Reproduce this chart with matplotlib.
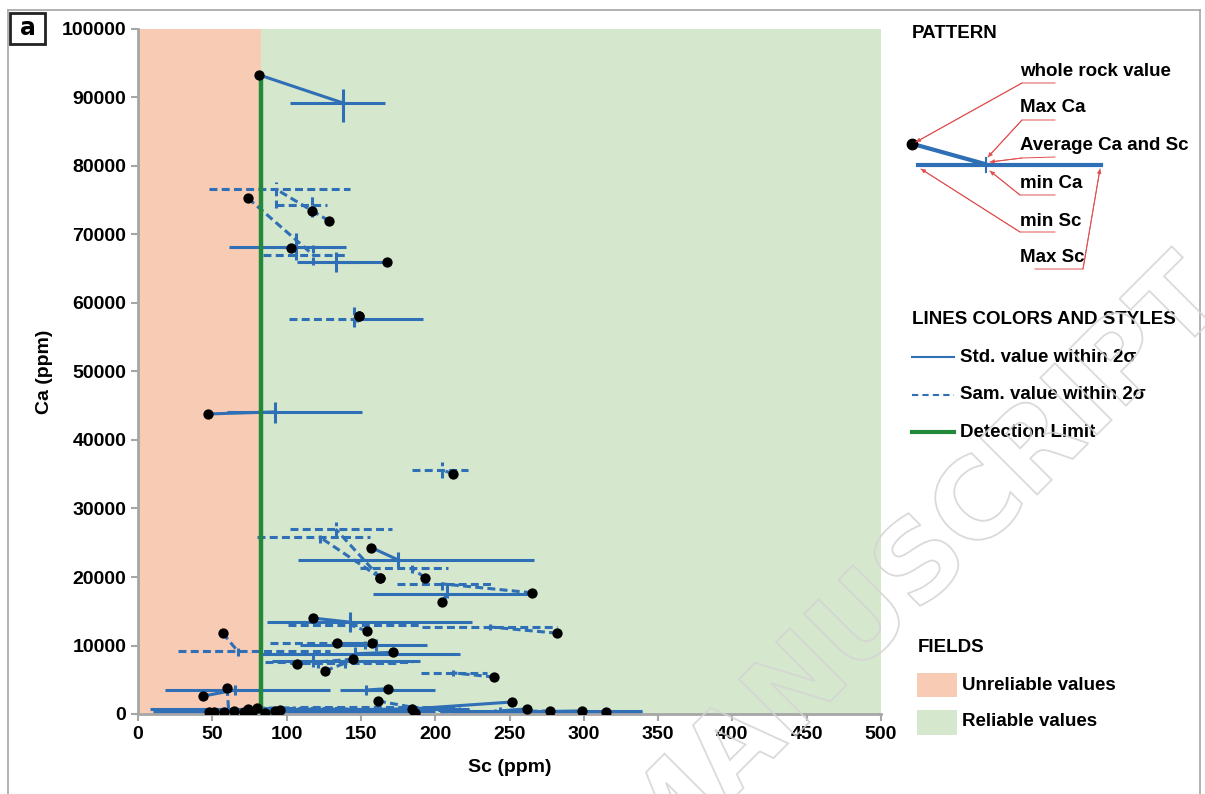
import matplotlib
matplotlib.use("Agg")
import matplotlib.pyplot as plt
from matplotlib.patches import Rectangle, PathPatch
from matplotlib.lines import Line2D
from matplotlib.textpath import TextPath
from matplotlib.font_manager import FontProperties
from matplotlib.transforms import Affine2D, IdentityTransform

FONT = ["Liberation Sans Narrow", "Liberation Sans", "DejaVu Sans"]
plt.rcParams["font.family"] = FONT
plt.rcParams["font.weight"] = "bold"

BLUE = "#2f6fb5"
GREEN_LINE = "#23893a"
SALMON = "#f8cbb4"
LIGHT_GREEN = "#d5e7cd"
GREY = "#a6a6a6"

DETECTION_LIMIT = 83
DL_TOP = 93300

# one entry per sample: whole rock value, average of the analyses, min/max ranges
dashed = [0, 1, 1, 1, 0, 0, 1, 0, 0, 1, 1, 1, 1, 0, 1, 0, 0, 1, 1, 1, 1, 0, 0, 1, 0,
          1, 1, 0, 0, 1, 1, 0, 0, 1, 0, 0, 1, 0, 0, 1, 0, 0, 1, 0, 0, 1, 0, 1, 0]
wr_sc = [81.5, 128.5, 117, 74, 103, 167.5, 148.5, 148.5, 47, 212, 163, 163, 193, 157,
         265, 204.5, 118, 282, 154, 57, 134, 157.5, 171.5, 144.5, 107, 126, 239.5, 168,
         43.5, 60, 161.5, 251.5, 262, 277, 299, 315, 184.5, 186.5,
         48, 51, 58, 64.5, 71, 74, 77, 80, 85.5, 92.5, 95.5]
wr_ca = [93300, 72000, 73400, 75300, 68000, 66000, 58100, 58100, 43800, 35100, 19900,
         19900, 19900, 24300, 17700, 16300, 14000, 11800, 12100, 11800, 10400, 10400,
         9000, 8000, 7300, 6300, 5400, 3700, 2600, 3800, 1900, 1750, 750, 450, 450, 300,
         750, 100, 350, 300, 350, 450, 300, 700, 250, 850, 150, 500, 650]
avg_sc = [138, 93, 117, 118, 106, 133, 145.5, 147.5, 92, 204.5, 133, 122.5, 184.5, 175,
          204.5, 208, 143, 237, 143, 67, 153, 160, 146, 121, 118, 139, 212, 153.5,
          65.5, 61, 184.5, 184.5, 243.5, 240, 257, 270.5, 136, 109,
          70, 85, 75, 95, 100, 90, 110, 105, 120, 130, 140]
avg_ca = [89200, 76600, 74300, 67000, 68200, 66000, 57700, 57700, 44100, 35600, 27000,
          25800, 21300, 22500, 19000, 17500, 13400, 12700, 13000, 9200, 10400, 10100,
          8800, 7600, 7700, 7400, 6000, 3500, 3500, 450, 1000, 750, 450, 300, 300, 300,
          600, 300, 500, 400, 300, 600, 450, 700, 350, 900, 400, 550, 700]
min_sc = [102, 48, 93, 84, 61, 107, 101.5, 147.5, 60, 184.5, 102, 80, 149.5, 108, 174,
          158, 87, 191, 101, 27, 89, 109, 83.5, 85.5, 90, 102, 190.5, 136, 18, 40, 109,
          8, 203, 203, 214, 229, 62, 10,
          20, 45, 35, 55, 60, 50, 70, 75, 85, 100, 110]
max_sc = [166, 143, 127, 141, 140, 149, 145.5, 192, 151, 222, 171, 156, 208.5, 266.5,
          239, 266.5, 225, 282, 190, 129, 153, 194.5, 216.5, 184.5, 190, 176, 235, 200,
          129, 130, 216.5, 223, 339, 284, 325, 339, 223, 190,
          120, 125, 110, 140, 160, 150, 170, 140, 200, 180, 200]
min_ca = [86400, 73900, 72600, 65500, 66300, 64500, 56500, 57200, 42500, 34500, 25700,
          25000, 20600, 21500, 18100, 16900, 12000, 12200, 12300, 8500, 9500, 9200, 7700,
          6700, 6900, 6700, 5600, 2800, 2800, 100, 300, 200, 100, 50, 50, 50, 200, 50,
          100, 100, 50, 300, 200, 400, 100, 600, 100, 300, 400]
max_ca = [91300, 77700, 75800, 68500, 70200, 67500, 59400, 58200, 45500, 36800, 28000,
          26600, 22000, 23700, 19600, 19100, 14900, 13200, 13900, 10100, 11200, 10900,
          9800, 8500, 8600, 8000, 6400, 4200, 4200, 900, 1600, 1300, 1000, 700, 600, 600,
          1000, 700, 900, 700, 600, 900, 700, 1000, 600, 1200, 700, 800, 1000]

x_ticks = list(range(0, 501, 50))
y_ticks = list(range(0, 100001, 10000))

fig = plt.figure(figsize=(12.05, 7.94), dpi=100)
ax = fig.add_axes([138 / 1205, 1 - 714 / 794, (881 - 138) / 1205, (714 - 29) / 794])

ax.axvspan(0, DETECTION_LIMIT, color=SALMON, lw=0, zorder=0)
ax.axvspan(DETECTION_LIMIT, 500, color=LIGHT_GREEN, lw=0, zorder=0)
ax.vlines(DETECTION_LIMIT, 0, DL_TOP, color=GREEN_LINE, lw=3.2, zorder=3)

for i in range(len(wr_sc)):
    ls = (0, (2.6, 1.4)) if dashed[i] else "-"
    kw = dict(color=BLUE, lw=2.2, ls=ls, zorder=2, solid_capstyle="butt", dash_capstyle="butt")
    ax.plot([min_sc[i], max_sc[i]], [avg_ca[i], avg_ca[i]], **kw)
    ax.plot([avg_sc[i], avg_sc[i]], [min_ca[i], max_ca[i]], **kw)
    ax.plot([wr_sc[i], avg_sc[i]], [wr_ca[i], avg_ca[i]], **kw)

ax.scatter(wr_sc, wr_ca, s=55, color="black", zorder=5, lw=0)

ax.set_xlim(0, 500)
ax.set_ylim(0, 100000)
ax.set_xticks(x_ticks)
ax.set_yticks(y_ticks)
for s in ["top", "right"]:
    ax.spines[s].set_visible(False)
for s in ["left", "bottom"]:
    ax.spines[s].set_color(GREY)
    ax.spines[s].set_linewidth(2)
ax.tick_params(colors=GREY, width=1.5, length=5, labelsize=14, labelcolor="black")
for lab in ax.get_xticklabels() + ax.get_yticklabels():
    lab.set_fontweight("bold")
ax.set_xlabel("Sc (ppm)", fontsize=14, fontweight="bold", labelpad=12)
ax.set_ylabel("Ca (ppm)", fontsize=14, fontweight="bold", labelpad=6)


def fx(px):
    return px / 1205


def fy(py):
    return 1 - py / 794


# frame and panel letter
fig.add_artist(Line2D([fx(8), fx(8)], [0, fy(10)], color=GREY, lw=1.2))
fig.add_artist(Line2D([fx(8), fx(1200)], [fy(10), fy(10)], color=GREY, lw=1.2))
fig.add_artist(Line2D([fx(1200), fx(1200)], [0, fy(10)], color=GREY, lw=1.2))
fig.add_artist(Rectangle((fx(10), fy(44)), fx(35), 31 / 794, fill=False, ec="#222222", lw=2))
fig.text(fx(27.5), fy(28), "a", ha="center", va="center", fontsize=17, fontweight="bold",
         family="DejaVu Sans")

# legend: pattern
fs = 13.5
fig.text(fx(912), fy(33), "PATTERN", fontsize=fs, fontweight="bold", va="center")
fig.add_artist(Line2D([fx(913), fx(985)], [fy(144), fy(164)], color=BLUE, lw=3))
fig.add_artist(Line2D([fx(918), fx(1101)], [fy(165), fy(165)], color=BLUE, lw=3))
fig.add_artist(Line2D([fx(986), fx(986)], [fy(158), fy(172)], color=BLUE, lw=1.5))
fig.add_artist(Line2D([fx(912)], [fy(144)], marker="o", ms=7.5, color="black"))

labels = ["whole rock value", "Max Ca", "Average Ca and Sc", "min Ca", "min Sc", "Max Sc"]
label_y = [71, 107, 145, 184, 221, 258]
for t, yy in zip(labels, label_y):
    fig.text(fx(1020), fy(yy), t, fontsize=fs, fontweight="bold", va="center")

RED = "#e05050"
arrows = [
    [(1055, 83), (1022, 83), (916, 142)],
    [(1055, 120), (1022, 120), (988, 157)],
    [(1055, 157), (1022, 158), (990, 162)],
    [(1055, 195), (1020, 195), (990, 171)],
    [(1055, 232), (1020, 232), (921, 169)],
    [(1035, 269), (1083, 269), (1100, 169)],
]
for pts in arrows:
    xs = [fx(p[0]) for p in pts]
    ys = [fy(p[1]) for p in pts]
    fig.add_artist(Line2D(xs, ys, color=RED, lw=0.7))
    end, prev = pts[-1], pts[-2]
    fig.add_artist(plt.Annotation("", xy=(fx(end[0]), fy(end[1])),
                                  xytext=(fx(prev[0]), fy(prev[1])),
                                  xycoords="figure fraction",
                                  arrowprops=dict(arrowstyle="-|>", color=RED, lw=0.7,
                                                  mutation_scale=6, shrinkA=0, shrinkB=0)))

# legend: lines
fig.text(fx(912), fy(320), "LINES COLORS AND STYLES", fontsize=fs, fontweight="bold", va="center")
fig.add_artist(Line2D([fx(912), fx(954)], [fy(357), fy(357)], color=BLUE, lw=1.5))
fig.add_artist(Line2D([fx(912), fx(954)], [fy(395), fy(395)], color=BLUE, lw=1.5,
                      ls=(0, (3, 2))))
fig.add_artist(Line2D([fx(912), fx(954)], [fy(432), fy(432)], color=GREEN_LINE, lw=3))
fig.text(fx(960), fy(357), "Std. value within 2σ", fontsize=fs, fontweight="bold", va="center")
fig.text(fx(960), fy(395), "Sam. value within 2σ", fontsize=fs, fontweight="bold", va="center")
fig.text(fx(960), fy(432), "Detection Limit", fontsize=fs, fontweight="bold", va="center")

# legend: fields
fig.text(fx(918), fy(648), "FIELDS", fontsize=fs, fontweight="bold", va="center")
fig.add_artist(Rectangle((fx(917), fy(697)), fx(40), 24 / 794, color=SALMON, lw=0))
fig.add_artist(Rectangle((fx(917), fy(735)), fx(40), 25 / 794, color=LIGHT_GREEN, lw=0))
fig.text(fx(962), fy(685), "Unreliable values", fontsize=fs, fontweight="bold", va="center")
fig.text(fx(962), fy(721), "Reliable values", fontsize=fs, fontweight="bold", va="center")

# faint outlined watermark
wm = TextPath((0, 0), "MANUSCRIPT", size=110, prop=FontProperties(family="DejaVu Sans"))
bb = wm.get_extents()
tr = (Affine2D().translate(-(bb.x0 + bb.x1) / 2, -(bb.y0 + bb.y1) / 2)
      .rotate_deg(45).translate(915, 794 - 560))
wm = tr.transform_path(wm)
fig.add_artist(PathPatch(wm, transform=IdentityTransform(), fc="none", ec="#d4d4d4",
                         lw=1.3, alpha=0.85, zorder=10))

fig.savefig("out.png", dpi=100)
